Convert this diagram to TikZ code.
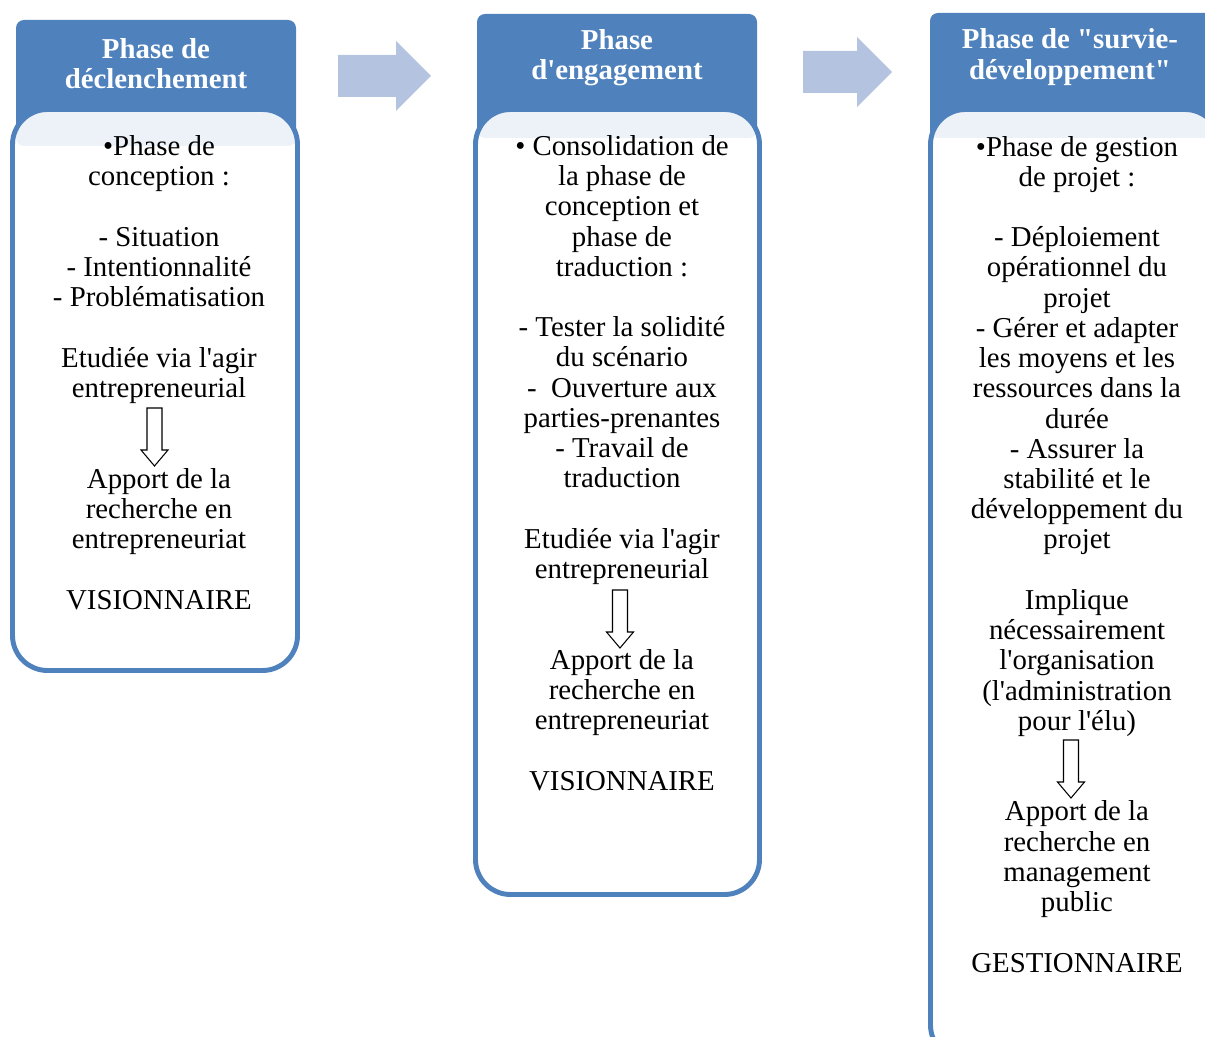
\documentclass[tikz,border=0pt]{standalone}
\usepackage{fontspec}
\setmainfont{Liberation Serif}[Ligatures=TeXOff]
\usepackage{tikz}
\usetikzlibrary{positioning}

\definecolor{hdblue}{HTML}{4F81BD}
\definecolor{arrblue}{HTML}{B4C4E0}

\begin{document}
\begin{tikzpicture}[x=0.02cm,y=-0.02cm,
  header/.style={fill=hdblue,rounded corners=0.16cm},
  bodybox/.style={fill=white,fill opacity=0.9,draw=hdblue,draw opacity=1,line width=2.8pt,rounded corners=0.7cm},
  headtext/.style={text=white,font=\fontsize{16.4pt}{17.2pt}\selectfont\bfseries,align=center,inner sep=0pt},
  bodytext/.style={font=\fontsize{16.4pt}{17.2pt}\selectfont,align=center,inner sep=0pt,anchor=base},
  bigarrow/.style={fill=arrblue},
  downarrow/.style={draw=black,fill=white,line width=0.6pt}]
\useasboundingbox (0,0) rectangle (1205,1037);
\clip (0,0) rectangle (1205,1037);

% headers
\fill[header] (16,20) rectangle (296,146);
\fill[header] (477,14) rectangle (757,138);
\fill[header] (930,13) rectangle (1215,138);

% body boxes
\draw[bodybox] (12.5,109.5) rectangle (297.5,670.5);
\draw[bodybox] (475.5,109.5) rectangle (759.5,894.5);
\draw[bodybox] (930.5,109.5) rectangle (1220,1060);

% titles
\node[headtext] (h1) at (156,64) {Phase de\\déclenchement};
\node[headtext] (h2) at (617,58) {Phase\\d'engagement};
\node[headtext] (h3) at (1070,57) {Phase de "survie-\\développement"};

% big arrows between phases
\fill[bigarrow] (338,55) -- (396,55) -- (396,41) -- (431,76) -- (396,111) -- (396,97) -- (338,97) -- cycle;
\fill[bigarrow] (803,51) -- (857,51) -- (857,37) -- (892,72) -- (857,107) -- (857,93) -- (803,93) -- cycle;

% contents (base = last line)
\node[bodytext] (c1) at (159,609) {\textbullet Phase de\\conception :\\~\\- Situation\\- Intentionnalité\\- Problématisation\\~\\Etudiée via l'agir\\entrepreneurial\\~\\~\\Apport de la\\recherche en\\entrepreneuriat\\~\\VISIONNAIRE};
\node[bodytext] (c2) at (622,790) {\textbullet{} Consolidation de\\la phase de\\conception et\\phase de\\traduction :\\~\\- Tester la solidité\\du scénario\\-~ Ouverture aux\\parties-prenantes\\- Travail de\\traduction\\~\\Etudiée via l'agir\\entrepreneurial\\~\\~\\Apport de la\\recherche en\\entrepreneuriat\\~\\VISIONNAIRE};
\node[bodytext] (c3) at (1077,972) {\textbullet Phase de gestion\\de projet :\\~\\- Déploiement\\opérationnel du\\projet\\- Gérer et adapter\\les moyens et les\\ressources dans la\\durée\\- Assurer la\\stabilité et le\\développement du\\projet\\~\\Implique\\nécessairement\\l'organisation\\(l'administration\\pour l'élu)\\~\\~\\Apport de la\\recherche en\\management\\public\\~\\GESTIONNAIRE};

% down arrows
\foreach \x/\y in {154.5/408,620/590,1071/740}
  \draw[downarrow] (\x-7.5,\y) -- (\x+7.5,\y) -- (\x+7.5,\y+42) -- (\x+13.5,\y+42)
    -- (\x,\y+58) -- (\x-13.5,\y+42) -- (\x-7.5,\y+42) -- cycle;

\end{tikzpicture}
\end{document}
